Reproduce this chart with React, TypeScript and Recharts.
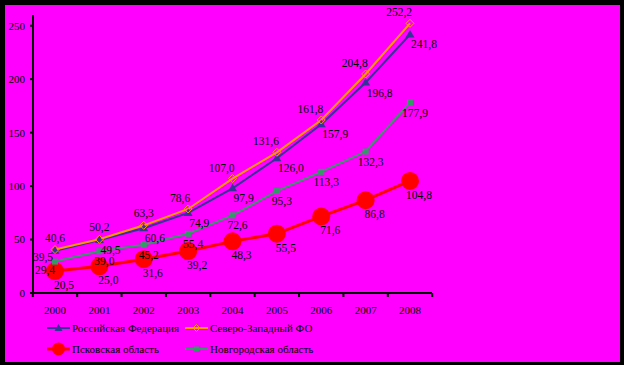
import { LineChart, Line, XAxis, YAxis, LabelList } from "recharts";

const years = ["2000", "2001", "2002", "2003", "2004", "2005", "2006", "2007", "2008"];
const russia = [39.5, 49.5, 60.6, 74.9, 97.9, 126.0, 157.9, 196.8, 241.8];
const northWest = [40.6, 50.2, 63.3, 78.6, 107.0, 131.6, 161.8, 204.8, 252.2];
const pskov = [20.5, 25.0, 31.6, 39.2, 48.3, 55.5, 71.6, 86.8, 104.8];
const novgorod = [29.4, 39.0, 45.2, 55.4, 72.6, 95.3, 113.3, 132.3, 177.9];
const yTicks = [0, 50, 100, 150, 200, 250];

const names = {
  russia: "Российская Федерация",
  northWest: "Северо-Западный ФО",
  pskov: "Псковская область",
  novgorod: "Новгородская область",
};

const colors = {
  russia: "#333399",
  northWest: "#FF9900",
  pskov: "#FF0000",
  novgorod: "#339966",
};

const data = years.map((year, i) => ({
  year,
  russia: russia[i],
  northWest: northWest[i],
  pskov: pskov[i],
  novgorod: novgorod[i],
}));

const FONT = '"Liberation Serif", "Times New Roman", serif';
const HALF_BAND = 22.2;

const fmt = (v: number) => v.toFixed(1).replace(".", ",");

// markers
const triangle = (color: string) => (p: any) => (
  <polygon
    key={`t-${p.index}`}
    points={`${p.cx},${p.cy - 4.5} ${p.cx - 4.5},${p.cy + 3} ${p.cx + 4.5},${p.cy + 3}`}
    fill={color}
  />
);
const diamond = (color: string) => (p: any) => (
  <polygon
    key={`d-${p.index}`}
    points={`${p.cx},${p.cy - 4} ${p.cx + 4},${p.cy} ${p.cx},${p.cy + 4} ${p.cx - 4},${p.cy}`}
    fill="none"
    stroke={color}
    strokeWidth={1}
  />
);
const square = (color: string) => (p: any) => (
  <rect key={`s-${p.index}`} x={p.cx - 3} y={p.cy - 3} width={6} height={6} fill={color} />
);
const circle = (color: string) => (p: any) => (
  <circle key={`c-${p.index}`} cx={p.cx} cy={p.cy} r={9} fill={color} />
);

// data labels
const labelText = (x: number, y: number, value: number, anchor: string) => (
  <text x={x} y={y} textAnchor={anchor} fontSize={11.5} fontFamily={FONT} fill="#000">
    {fmt(value)}
  </text>
);
const northWestLabel = (p: any) =>
  p.index < 3
    ? labelText(p.x, p.y - 8, p.value, "middle")
    : labelText(p.x + 2, p.y - 7, p.value, "end");
const russiaLabel = (p: any) =>
  p.index === 0
    ? labelText(p.x - 2, p.y + 10, p.value, "end")
    : labelText(p.x + 1, p.y + 14, p.value, "start");
const novgorodLabel = (p: any) =>
  p.index === 0
    ? labelText(p.x, p.y + 12, p.value, "end")
    : labelText(p.x + 5, p.y + 14, p.value, "middle");
const pskovLabel = (p: any) => labelText(p.x + 9, p.y + 18, p.value, "middle");

const XTick = (p: any) => {
  const last = p.index === years.length - 1;
  return (
    <g>
      <line x1={p.x - HALF_BAND} x2={p.x - HALF_BAND} y1={p.y} y2={p.y + 4} stroke="#000" strokeWidth={2} />
      {last && (
        <line x1={p.x + HALF_BAND} x2={p.x + HALF_BAND} y1={p.y} y2={p.y + 4} stroke="#000" strokeWidth={2} />
      )}
      <text x={p.x} y={p.y + 21} textAnchor="middle" fontSize={11} fontFamily={FONT} fill="#000">
        {p.payload.value}
      </text>
    </g>
  );
};

function LegendIcon({ kind, x, y }: { kind: keyof typeof colors; x: number; y: number }) {
  const c = colors[kind];
  const mx = x + 11.5;
  return (
    <g>
      <line x1={x} x2={x + 23} y1={y} y2={y} stroke={c} strokeWidth={kind === "pskov" ? 3 : 2} />
      {kind === "russia" && (
        <polygon points={`${mx},${y - 4} ${mx - 4},${y + 3} ${mx + 4},${y + 3}`} fill={c} />
      )}
      {kind === "northWest" && (
        <polygon
          points={`${mx},${y - 3.5} ${mx + 3.5},${y} ${mx},${y + 3.5} ${mx - 3.5},${y}`}
          fill="none"
          stroke={c}
        />
      )}
      {kind === "pskov" && <circle cx={mx} cy={y} r={6.5} fill={c} />}
      {kind === "novgorod" && <rect x={mx - 2.5} y={y - 2.5} width={5} height={5} fill={c} />}
    </g>
  );
}

function ChartLegend() {
  const items: Array<{ kind: keyof typeof colors; x: number; y: number }> = [
    { kind: "russia", x: 47, y: 328 },
    { kind: "northWest", x: 185, y: 328 },
    { kind: "pskov", x: 47, y: 349 },
    { kind: "novgorod", x: 185, y: 349 },
  ];
  return (
    <svg width={624} height={365} style={{ position: "absolute", left: 0, top: 0, pointerEvents: "none" }}>
      {items.map((it) => (
        <g key={it.kind}>
          <LegendIcon kind={it.kind} x={it.x} y={it.y} />
          <text x={it.x + 25} y={it.y + 4} fontSize={11} fontFamily={FONT} fill="#000">
            {names[it.kind]}
          </text>
        </g>
      ))}
    </svg>
  );
}

export default function App() {
  return (
    <div style={{ position: "fixed", left: 0, top: 0, width: 624, height: 365, background: "#000" }}>
      <div style={{ position: "absolute", left: 5, top: 5, width: 615, height: 357, background: "#FF00FF" }} />
      <div style={{ position: "absolute", left: 0, top: 0 }}>
        <LineChart width={624} height={365} data={data} margin={{ top: 15, right: 192, bottom: 42, left: 0 }}>
          <XAxis
            dataKey="year"
            padding={{ left: 22, right: 22 }}
            axisLine={{ stroke: "#000", strokeWidth: 2 }}
            tickLine={false}
            tickSize={0}
            tickMargin={0}
            tick={<XTick />}
            height={30}
            interval={0}
          />
          <YAxis
            width={33}
            domain={[0, 260]}
            ticks={yTicks}
            interval={0}
            axisLine={{ stroke: "#000", strokeWidth: 2 }}
            tickLine={{ stroke: "#000", strokeWidth: 2 }}
            tickSize={3}
            tickMargin={5}
            tick={{ fill: "#000", fontSize: 11, fontFamily: FONT }}
          />
          <Line dataKey="russia" name={names.russia} stroke={colors.russia} strokeWidth={2} dot={triangle(colors.russia)} isAnimationActive={false} />
          <Line dataKey="northWest" name={names.northWest} stroke={colors.northWest} strokeWidth={2} dot={diamond(colors.northWest)} isAnimationActive={false} />
          <Line dataKey="pskov" name={names.pskov} stroke={colors.pskov} strokeWidth={3} dot={circle(colors.pskov)} isAnimationActive={false} />
          <Line dataKey="novgorod" name={names.novgorod} stroke={colors.novgorod} strokeWidth={2} dot={square(colors.novgorod)} isAnimationActive={false} />
          {/* label-only layers so the numbers sit above every line */}
          <Line dataKey="russia" stroke="none" dot={false} activeDot={false} isAnimationActive={false}>
            <LabelList dataKey="russia" content={russiaLabel} />
          </Line>
          <Line dataKey="northWest" stroke="none" dot={false} activeDot={false} isAnimationActive={false}>
            <LabelList dataKey="northWest" content={northWestLabel} />
          </Line>
          <Line dataKey="pskov" stroke="none" dot={false} activeDot={false} isAnimationActive={false}>
            <LabelList dataKey="pskov" content={pskovLabel} />
          </Line>
          <Line dataKey="novgorod" stroke="none" dot={false} activeDot={false} isAnimationActive={false}>
            <LabelList dataKey="novgorod" content={novgorodLabel} />
          </Line>
        </LineChart>
      </div>
      <ChartLegend />
    </div>
  );
}
